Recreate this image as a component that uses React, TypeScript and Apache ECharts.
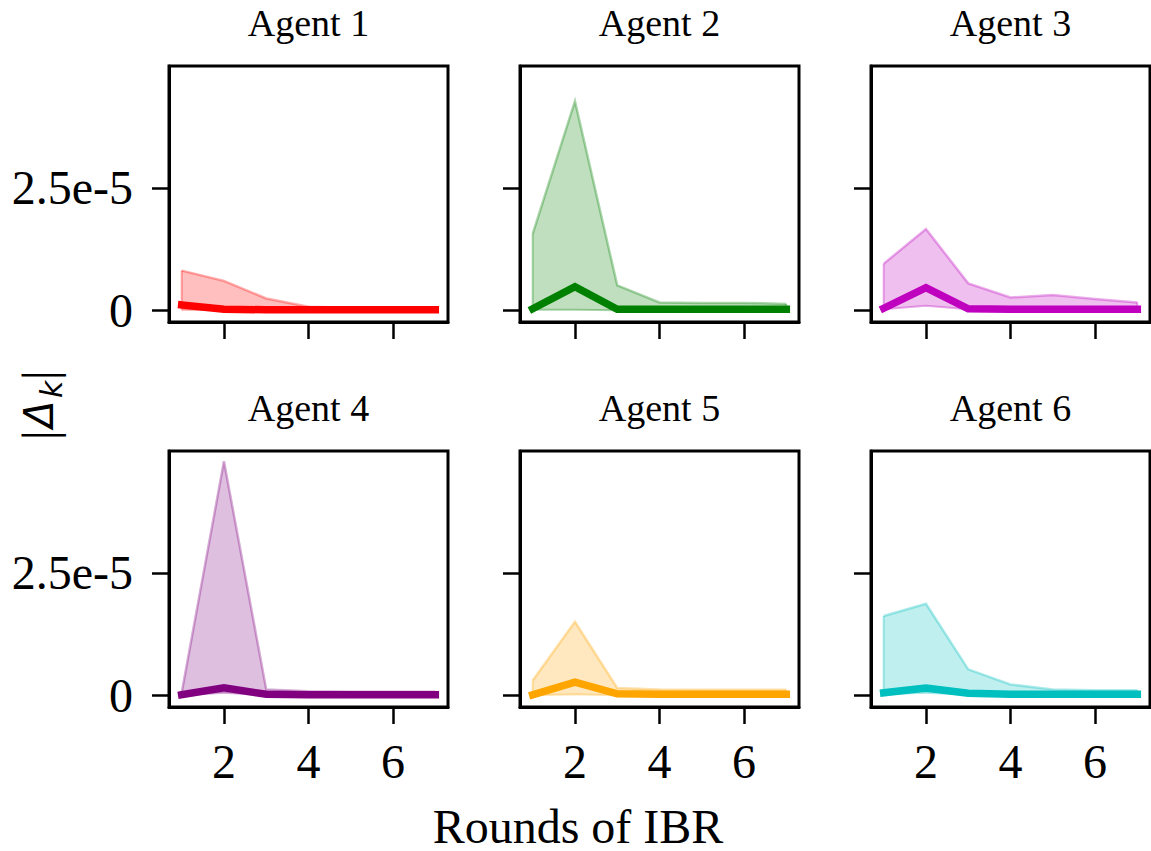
import React, { useEffect, useRef } from 'react';
import * as echarts from 'echarts';

const rounds = [1, 2, 3, 4, 5, 6, 7];
const agentNames = ['Agent 1', 'Agent 2', 'Agent 3', 'Agent 4', 'Agent 5', 'Agent 6'];
const agentColors = ['#ff0000', '#008000', '#bf00bf', '#800080', '#ffa500', '#00bfbf'];

const agent1Mean = [0.11e-5, 0.02e-5, 0.01e-5, 0.01e-5, 0.01e-5, 0.01e-5, 0.01e-5];
const agent1Upper = [0.81e-5, 0.6e-5, 0.24e-5, 0.07e-5, 0.05e-5, 0.05e-5, 0.05e-5];
const agent1Lower = [0.01e-5, 0.0, 0.0, 0.0, 0.0, 0.0, 0.0];

const agent2Mean = [0.03e-5, 0.48e-5, 0.02e-5, 0.02e-5, 0.02e-5, 0.02e-5, 0.02e-5];
const agent2Upper = [1.56e-5, 4.27e-5, 0.51e-5, 0.16e-5, 0.15e-5, 0.15e-5, 0.13e-5];
const agent2Lower = [0.01e-5, 0.01e-5, 0.0, 0.0, 0.0, 0.0, 0.0];

const agent3Mean = [0.04e-5, 0.46e-5, 0.03e-5, 0.02e-5, 0.02e-5, 0.02e-5, 0.02e-5];
const agent3Upper = [0.95e-5, 1.66e-5, 0.55e-5, 0.26e-5, 0.31e-5, 0.23e-5, 0.16e-5];
const agent3Lower = [0.02e-5, 0.09e-5, 0.02e-5, 0.01e-5, 0.01e-5, 0.01e-5, 0.01e-5];

const agent4Mean = [0.01e-5, 0.15e-5, 0.02e-5, 0.01e-5, 0.01e-5, 0.01e-5, 0.01e-5];
const agent4Upper = [0.05e-5, 4.78e-5, 0.12e-5, 0.08e-5, 0.07e-5, 0.07e-5, 0.07e-5];
const agent4Lower = [0.0, 0.05e-5, 0.0, 0.0, 0.0, 0.0, 0.0];

const agent5Mean = [0.01e-5, 0.27e-5, 0.03e-5, 0.02e-5, 0.02e-5, 0.02e-5, 0.02e-5];
const agent5Upper = [0.3e-5, 1.5e-5, 0.15e-5, 0.12e-5, 0.11e-5, 0.11e-5, 0.11e-5];
const agent5Lower = [0.0, 0.02e-5, 0.0, 0.0, 0.0, 0.0, 0.0];

const agent6Mean = [0.05e-5, 0.15e-5, 0.04e-5, 0.02e-5, 0.02e-5, 0.02e-5, 0.02e-5];
const agent6Upper = [1.62e-5, 1.87e-5, 0.53e-5, 0.22e-5, 0.12e-5, 0.1e-5, 0.1e-5];
const agent6Lower = [0.02e-5, 0.05e-5, 0.01e-5, 0.01e-5, 0.01e-5, 0.01e-5, 0.01e-5];

const meanValues = [agent1Mean, agent2Mean, agent3Mean, agent4Mean, agent5Mean, agent6Mean];
const upperValues = [agent1Upper, agent2Upper, agent3Upper, agent4Upper, agent5Upper, agent6Upper];
const lowerValues = [agent1Lower, agent2Lower, agent3Lower, agent4Lower, agent5Lower, agent6Lower];

const xTickValues = [2, 4, 6];
const yTickValues = [0, 2.5e-5];
const yTickLabels = ['0', '2.5e-5'];
const xLabel = 'Rounds of IBR';

const FONT = '"Liberation Serif", "Times New Roman", Times, serif';

export default function App() {
  const ref = useRef<HTMLDivElement>(null);

  useEffect(() => {
    if (!ref.current) return;
    const chart = echarts.init(ref.current, null, { renderer: 'svg' });

    const gridLefts = [169, 520, 871];
    const gridTops = [66, 451];
    const W = 279;
    const H = 256;

    const grid: any[] = [];
    const xAxis: any[] = [];
    const yAxis: any[] = [];
    const series: any[] = [];
    const graphic: any[] = [];

    for (let i = 0; i < 6; i++) {
      const r = Math.floor(i / 3);
      const c = i % 3;
      const color = agentColors[i];
      grid.push({
        left: gridLefts[c],
        top: gridTops[r],
        width: W,
        height: H,
        show: true,
        borderColor: '#000',
        borderWidth: 3,
        backgroundColor: 'transparent',
      });
      xAxis.push({
        type: 'value',
        gridIndex: i,
        min: 0.7,
        max: 7.3,
        splitLine: { show: false },
        axisLine: { show: true, onZero: false, lineStyle: { color: '#000', width: 3 } },
        axisTick: {
          show: true,
          customValues: xTickValues,
          length: 17,
          lineStyle: { color: '#000', width: 2.5 },
        },
        axisLabel: {
          show: r === 1,
          customValues: xTickValues,
          margin: 30,
          fontSize: 48,
          fontFamily: FONT,
          color: '#000',
        },
      });
      yAxis.push({
        type: 'value',
        gridIndex: i,
        min: -0.24e-5,
        max: 4.99e-5,
        splitLine: { show: false },
        axisLine: { show: true, onZero: false, lineStyle: { color: '#000', width: 3 } },
        axisTick: {
          show: true,
          customValues: yTickValues,
          length: 17,
          lineStyle: { color: '#000', width: 2.5 },
        },
        axisLabel: {
          show: c === 0,
          customValues: yTickValues,
          margin: 36,
          fontSize: 48,
          fontFamily: FONT,
          color: '#000',
          formatter: (v: number) => {
            let best = 0;
            for (let k = 0; k < yTickValues.length; k++) {
              if (Math.abs(yTickValues[k] - v) < Math.abs(yTickValues[best] - v)) best = k;
            }
            return yTickLabels[best];
          },
        },
      });

      const lower = lowerValues[i];
      const upper = upperValues[i];
      const mean = meanValues[i];
      const fillColor = echarts.color.modifyAlpha(color, 0.25);
      const edgeColor = echarts.color.modifyAlpha(color, 0.32);

      series.push({
        type: 'custom',
        xAxisIndex: i,
        yAxisIndex: i,
        silent: true,
        clip: true,
        data: rounds.map((x, k) => [x, lower[k], upper[k]]),
        encode: { x: 0, y: [1, 2] },
        renderItem: (params: any, api: any) => {
          if (params.dataIndex !== 0) return null;
          const up: number[][] = [];
          const lo: number[][] = [];
          for (let k = 0; k < rounds.length; k++) {
            up.push(api.coord([rounds[k], upper[k]]));
            lo.push(api.coord([rounds[k], lower[k]]));
          }
          const poly = up.concat(lo.slice().reverse());
          return {
            type: 'group',
            children: [
              { type: 'polygon', shape: { points: poly }, style: { fill: fillColor, stroke: 'none' } },
              { type: 'polyline', shape: { points: up }, style: { fill: 'none', stroke: edgeColor, lineWidth: 2.5 } },
              { type: 'polyline', shape: { points: lo }, style: { fill: 'none', stroke: edgeColor, lineWidth: 2 } },
              { type: 'polyline', shape: { points: [up[0], lo[0]] }, style: { fill: 'none', stroke: edgeColor, lineWidth: 2 } },
              { type: 'polyline', shape: { points: [up[up.length - 1], lo[lo.length - 1]] }, style: { fill: 'none', stroke: edgeColor, lineWidth: 2 } },
            ],
          };
        },
      });
      series.push({
        type: 'line',
        xAxisIndex: i,
        yAxisIndex: i,
        symbol: 'none',
        silent: true,
        lineStyle: { color, width: 7.5, cap: 'square', join: 'miter' },
        data: rounds.map((x, k) => [x, mean[k]]),
        z: 5,
      });

      graphic.push({
        type: 'text',
        x: gridLefts[c] + W / 2,
        y: (r === 0 ? 36 : 421) - 13,
        style: {
          text: agentNames[i],
          fontSize: 38,
          fontFamily: FONT,
          fill: '#000',
          textAlign: 'center',
          align: 'center',
          textVerticalAlign: 'middle',
          verticalAlign: 'middle',
        },
      });
    }

    graphic.push({
      type: 'text',
      x: 578,
      y: 826,
      style: {
        text: xLabel,
        fontSize: 48,
        lineHeight: 40,
        fontFamily: FONT,
        fill: '#000',
        textAlign: 'center',
        align: 'center',
        textVerticalAlign: 'middle',
        verticalAlign: 'middle',
      },
    });

    const mk = (text: string, x: number, y: number, size: number, italic: boolean) => ({
      type: 'text',
      x,
      y,
      style: {
        text,
        fontSize: size,
        fontFamily: italic ? '"DejaVu Sans", sans-serif' : FONT,
        fontStyle: italic ? 'italic' : 'normal',
        fill: '#000',
        textAlign: 'left',
        align: 'left',
        textVerticalAlign: 'middle',
        verticalAlign: 'middle',
      },
    });

    graphic.push({
      type: 'group',
      x: 39,
      y: 440,
      rotation: Math.PI / 2,
      children: [
        mk('|', 0, 0, 48, false),
        mk('Δ', 12, 0, 40, true),
        mk('k', 42, 12, 30, true),
        mk('|', 60, 0, 48, false),
      ],
    });

    chart.setOption({
      animation: false,
      backgroundColor: '#fff',
      grid,
      xAxis,
      yAxis,
      series,
      graphic,
    });

    return () => {
      chart.dispose();
    };
  }, []);

  return (
    <div
      ref={ref}
      style={{ position: 'absolute', left: 0, top: 0, width: 1151, height: 851 }}
    />
  );
}
